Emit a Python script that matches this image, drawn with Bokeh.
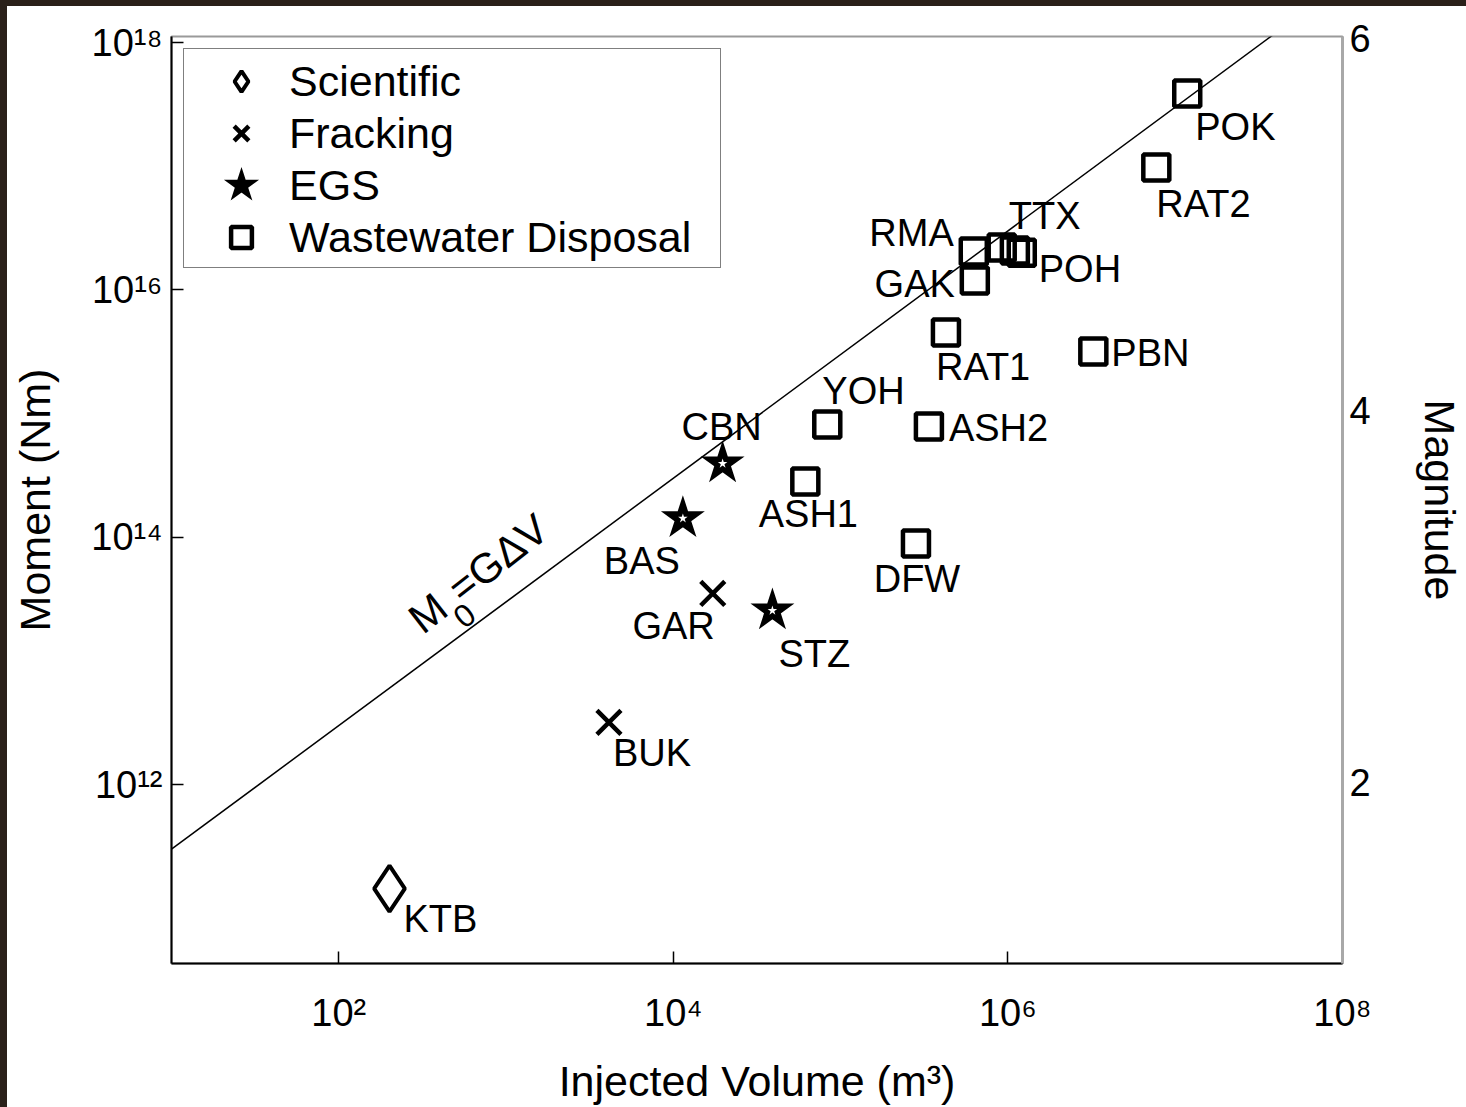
import numpy as np
from bokeh.plotting import figure
from bokeh.layouts import column, row
from bokeh.models import (Range1d, LinearAxis, LinearScale, FixedTicker, Legend,
                          LegendItem, ColumnDataSource, Spacer)
from bokeh.core.properties import value
from bokeh.embed import file_html
from bokeh.resources import INLINE

FONT = "Liberation Sans"

# ---------------- data ----------------
sci_names = ["KTB"]
sci_volume = [201]
sci_moment = [1.44e11]

frack_names = ["BUK", "GAR"]
frack_volume = [4120, 17200]
frack_moment = [3.18e12, 3.51e13]

egs_names = ["BAS", "CBN", "STZ"]
egs_volume = [11400, 19700, 39100]
egs_moment = [1.42e14, 3.94e14, 2.55e13]

ww_names = ["ASH1", "YOH", "ASH2", "DFW", "RAT1", "PBN", "GAK", "RMA",
            "TTX", "", "POH", "RAT2", "POK"]
ww_volume = [61500, 83200, 337000, 282000, 426000, 3.24e6, 634000, 625000,
             918000, 1.10e6, 1.21e6, 7.71e6, 1.18e7]
ww_moment = [2.82e14, 8.15e14, 7.85e14, 8.89e13, 4.52e15, 3.17e15, 1.19e16,
             2.04e16, 2.20e16, 2.08e16, 2.00e16, 9.76e16, 3.87e17]

G = 3e10                      # shear modulus (Pa): M0 = G * dV
line_volume = [10, 1e8]

x_ticks = [1e2, 1e4, 1e6, 1e8]
x_tick_labels = ["10²", "10⁴", "10⁶", "10⁸"]
y_ticks = [1e12, 1e14, 1e16, 1e18]
y_tick_labels = ["10¹²", "10¹⁴", "10¹⁶", "10¹⁸"]
mag_ticks = [2, 4, 6]
MAG_RANGE = (1.03, 6.01)

# ---------------- layout constants (styling) ----------------
PAGE_W, PAGE_H = 1466, 1107
EDGE_L, EDGE_T = 7, 6                         # dark photo edge
EDGE_COLOR = "#2a2019"
W, H = PAGE_W - EDGE_L, PAGE_H - EDGE_T
FL, FR, FT, FB = 171 - EDGE_L, 1343 - EDGE_L, 36 - EDGE_T, 963 - EDGE_T
XLOG = (1.0, 8.0)
YLOG = (10.553, 18.049)
PX_X = (FR - FL) / (XLOG[1] - XLOG[0])
PX_Y = (FB - FT) / (YLOG[1] - YLOG[0])

# label placement (style only): align, dx, dy in screen pixels
label_place = {
    "KTB": ("left", 14, 30), "BUK": ("left", 4, 31), "GAR": ("right", 2, 33),
    "BAS": ("right", -3, 43), "CBN": ("center", -1, -37), "STZ": ("left", 6, 43),
    "ASH1": ("center", 3, 32), "YOH": ("left", -5, -34), "ASH2": ("left", 20, 1),
    "DFW": ("center", 1, 35), "RAT1": ("left", -10, 34), "PBN": ("left", 18, 1),
    "GAK": ("right", -20, 3), "RMA": ("right", -20, -19), "TTX": ("left", 7, -32),
    "": ("left", 0, 0), "POH": ("left", 17, 16), "RAT2": ("left", 0, 36),
    "POK": ("left", 8, 33),
}

# ---------------- figure ----------------
p = figure(width=W, height=H, x_axis_type="log", y_axis_type="log",
           x_range=Range1d(10 ** XLOG[0], 10 ** XLOG[1]),
           y_range=Range1d(10 ** YLOG[0], 10 ** YLOG[1]),
           output_backend="svg", toolbar_location=None,
           min_border_left=FL, min_border_right=W - FR,
           min_border_top=FT, min_border_bottom=H - FB)
p.grid.visible = False
p.background_fill_color = "white"
p.border_fill_color = "white"
p.outline_line_color = "#9a9a9a"
p.outline_line_width = 2

# model line M0 = G dV
p.line(line_volume, [G * v for v in line_volume], line_color="black", line_width=1.5)

# rotated annotation "M0=GΔV" (M, lowered 0, =GΔV), anchored on the line
theta = np.deg2rad(38.0)
u = np.array([np.cos(theta), -np.sin(theta)])       # along text (screen, y down)
n = np.array([-np.sin(theta), -np.cos(theta)])      # text "up" (screen)
anchor_logv = 2.586
anchor_logm = np.log10(G) + anchor_logv
pieces = [("M", 42, 37.0 * n),
          ("0", 32, 12.5 * n + 36 * u),
          ("=GΔV", 42, 37.0 * n + 50 * u)]
for txt, fs, d in pieces:
    xv = 10 ** (anchor_logv + d[0] / PX_X)
    ym = 10 ** (anchor_logm - d[1] / PX_Y)
    p.text(x=[xv], y=[ym], text=[txt], angle=theta, text_align="left",
           text_baseline="middle", text_font=value(FONT),
           text_font_size=f"{fs}px", text_color="black")

# markers
r_sci = p.scatter(sci_volume, sci_moment, marker="diamond", size=46,
                  fill_color=None, line_color="black", line_width=4)
r_frack = p.scatter(frack_volume, frack_moment, marker="x", size=34,
                    line_color="black", line_width=4.5)
r_egs = p.scatter(egs_volume, egs_moment, marker="star", size=30,
                  fill_color="black", line_color="black", line_width=5,
                  line_join="miter")
p.scatter(egs_volume, egs_moment, marker="star", size=10,
          fill_color="white", line_color=None)
r_ww = p.scatter(ww_volume, ww_moment, marker="square", size=26,
                 fill_color=None, line_color="black", line_width=4.5)

# point labels
names = sci_names + frack_names + egs_names + ww_names
vols = sci_volume + frack_volume + egs_volume + ww_volume
moms = sci_moment + frack_moment + egs_moment + ww_moment
lab_src = ColumnDataSource(dict(
    x=vols, y=moms, text=names,
    align=[label_place[nm][0] for nm in names],
    dx=[label_place[nm][1] for nm in names],
    dy=[label_place[nm][2] for nm in names],
))
p.text(x="x", y="y", text="text", source=lab_src, text_align="align",
       x_offset="dx", y_offset="dy", text_baseline="middle",
       text_font=value(FONT), text_font_size="38px", text_color="black")

# ---------------- axes ----------------
for ax in (p.xaxis[0], p.yaxis[0]):
    ax.major_tick_in = 12
    ax.major_tick_out = 0
    ax.minor_tick_in = 0
    ax.minor_tick_out = 0
    ax.axis_line_color = "black"
    ax.axis_line_width = 2
    ax.major_tick_line_color = "black"
    ax.major_tick_line_width = 1.5
    ax.major_label_text_font = FONT
    ax.major_label_text_font_size = "38px"
    ax.major_label_text_color = "black"
    ax.axis_label_text_font = FONT
    ax.axis_label_text_font_size = "43px"
    ax.axis_label_text_font_style = "normal"
    ax.axis_label_text_color = "black"

p.xaxis.ticker = FixedTicker(ticks=x_ticks, minor_ticks=[])
p.xaxis.major_label_overrides = {t: l for t, l in zip(x_ticks, x_tick_labels)}
p.xaxis.axis_label = "Injected Volume (m³)"
p.xaxis.major_label_standoff = 28
p.xaxis.axis_label_standoff = 20

p.yaxis.ticker = FixedTicker(ticks=y_ticks, minor_ticks=[])
p.yaxis.major_label_overrides = {t: l for t, l in zip(y_ticks, y_tick_labels)}
p.yaxis.axis_label = "Moment (Nm)"
p.yaxis.major_label_standoff = 9
p.yaxis.axis_label_standoff = 29

p.extra_y_ranges = {"mag": Range1d(*MAG_RANGE)}
p.extra_y_scales = {"mag": LinearScale()}
rax = LinearAxis(y_range_name="mag", ticker=FixedTicker(ticks=mag_ticks, minor_ticks=[]),
                 axis_label="Magnitude")
rax.major_tick_in = 0
rax.major_tick_out = 0
rax.minor_tick_in = 0
rax.minor_tick_out = 0
rax.axis_line_color = "#a8a8a8"
rax.axis_line_width = 3
rax.major_label_standoff = 7
rax.major_label_text_font = FONT
rax.major_label_text_font_size = "38px"
rax.major_label_text_color = "black"
rax.axis_label_text_font = FONT
rax.axis_label_text_font_size = "43px"
rax.axis_label_text_font_style = "normal"
rax.axis_label_text_color = "black"
rax.axis_label_standoff = 42
try:
    rax.axis_label_orientation = "vertical"
except Exception:
    pass
p.add_layout(rax, "right")

# ---------------- legend ----------------
legend = Legend(items=[
    LegendItem(label="Scientific", renderers=[r_sci]),
    LegendItem(label="Fracking", renderers=[r_frack]),
    LegendItem(label="EGS", renderers=[r_egs]),
    LegendItem(label="Wastewater Disposal", renderers=[r_ww]),
], location="top_left", margin=12,
    padding=dict(left=9, right=6, top=6, bottom=4), spacing=0,
    glyph_width=96, glyph_height=52, label_height=52, label_width=425,
    label_standoff=0, label_text_font=FONT, label_text_font_size="43px",
    label_text_color="black", border_line_color="black", border_line_width=1.5,
    background_fill_color="white", background_fill_alpha=1.0)
p.add_layout(legend)

# dark photo edge on the left and top, as in the reference image
top_edge = Spacer(width=PAGE_W, height=EDGE_T, styles={"background-color": EDGE_COLOR})
left_edge = Spacer(width=EDGE_L, height=H, styles={"background-color": EDGE_COLOR})
page = column(top_edge, row(left_edge, p, spacing=0), spacing=0)

open("out.html", "w").write(file_html(page, INLINE))
